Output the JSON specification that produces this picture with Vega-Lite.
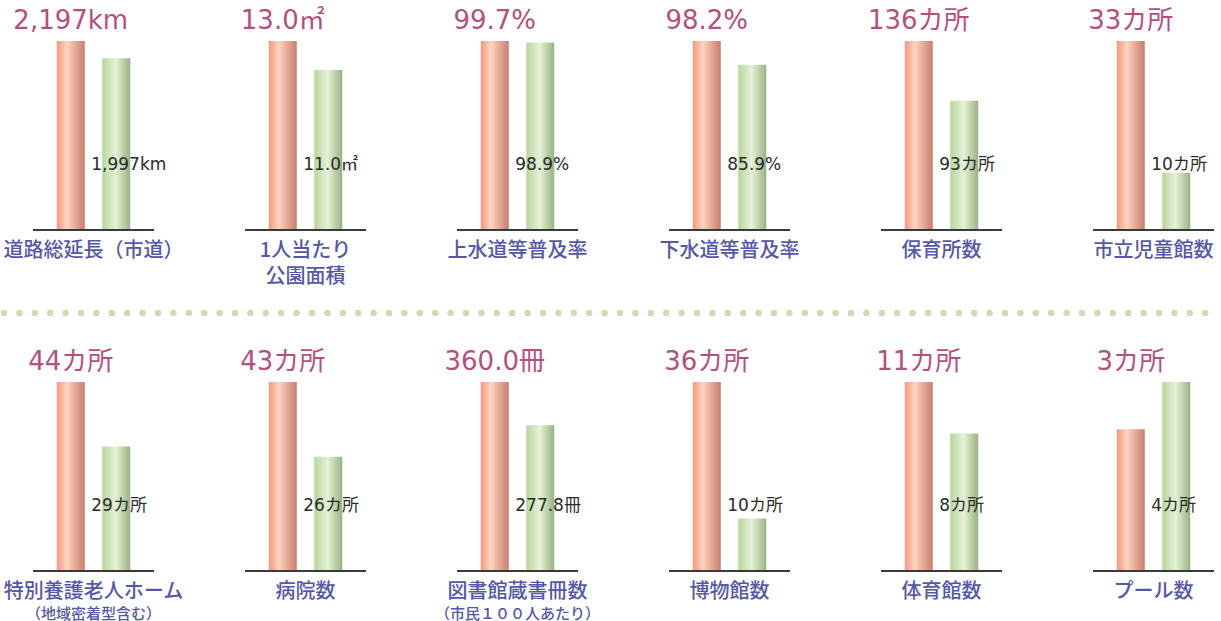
{
  "$schema": "https://vega.github.io/schema/vega-lite/v6.json",
  "background": "white",
  "padding": {"left": 0, "top": 8, "right": 0, "bottom": 0},
  "config": {"view": {"stroke": null}, "font": "Noto Sans CJK JP"},
  "data": {"values": [
    {"panel": 1, "row": 1, "series": "s1", "value": 2197, "label": "2,197km", "name": "道路総延長（市道）", "name2": null, "sub": null},
    {"panel": 1, "row": 1, "series": "s2", "value": 1997, "label": "1,997km", "name": "道路総延長（市道）", "name2": null, "sub": null},
    {"panel": 2, "row": 1, "series": "s1", "value": 13.0, "label": "13.0㎡", "name": "1人当たり", "name2": "公園面積", "sub": null},
    {"panel": 2, "row": 1, "series": "s2", "value": 11.0, "label": "11.0㎡", "name": "1人当たり", "name2": "公園面積", "sub": null},
    {"panel": 3, "row": 1, "series": "s1", "value": 99.7, "label": "99.7%", "name": "上水道等普及率", "name2": null, "sub": null},
    {"panel": 3, "row": 1, "series": "s2", "value": 98.9, "label": "98.9%", "name": "上水道等普及率", "name2": null, "sub": null},
    {"panel": 4, "row": 1, "series": "s1", "value": 98.2, "label": "98.2%", "name": "下水道等普及率", "name2": null, "sub": null},
    {"panel": 4, "row": 1, "series": "s2", "value": 85.9, "label": "85.9%", "name": "下水道等普及率", "name2": null, "sub": null},
    {"panel": 5, "row": 1, "series": "s1", "value": 136, "label": "136カ所", "name": "保育所数", "name2": null, "sub": null},
    {"panel": 5, "row": 1, "series": "s2", "value": 93, "label": "93カ所", "name": "保育所数", "name2": null, "sub": null},
    {"panel": 6, "row": 1, "series": "s1", "value": 33, "label": "33カ所", "name": "市立児童館数", "name2": null, "sub": null},
    {"panel": 6, "row": 1, "series": "s2", "value": 10, "label": "10カ所", "name": "市立児童館数", "name2": null, "sub": null},
    {"panel": 7, "row": 2, "series": "s1", "value": 44, "label": "44カ所", "name": "特別養護老人ホーム", "name2": null, "sub": "（地域密着型含む）"},
    {"panel": 7, "row": 2, "series": "s2", "value": 29, "label": "29カ所", "name": "特別養護老人ホーム", "name2": null, "sub": "（地域密着型含む）"},
    {"panel": 8, "row": 2, "series": "s1", "value": 43, "label": "43カ所", "name": "病院数", "name2": null, "sub": null},
    {"panel": 8, "row": 2, "series": "s2", "value": 26, "label": "26カ所", "name": "病院数", "name2": null, "sub": null},
    {"panel": 9, "row": 2, "series": "s1", "value": 360.0, "label": "360.0冊", "name": "図書館蔵書冊数", "name2": null, "sub": "（市民１００人あたり）"},
    {"panel": 9, "row": 2, "series": "s2", "value": 277.8, "label": "277.8冊", "name": "図書館蔵書冊数", "name2": null, "sub": "（市民１００人あたり）"},
    {"panel": 10, "row": 2, "series": "s1", "value": 36, "label": "36カ所", "name": "博物館数", "name2": null, "sub": null},
    {"panel": 10, "row": 2, "series": "s2", "value": 10, "label": "10カ所", "name": "博物館数", "name2": null, "sub": null},
    {"panel": 11, "row": 2, "series": "s1", "value": 11, "label": "11カ所", "name": "体育館数", "name2": null, "sub": null},
    {"panel": 11, "row": 2, "series": "s2", "value": 8, "label": "8カ所", "name": "体育館数", "name2": null, "sub": null},
    {"panel": 12, "row": 2, "series": "s1", "value": 3, "label": "3カ所", "name": "プール数", "name2": null, "sub": null},
    {"panel": 12, "row": 2, "series": "s2", "value": 4, "label": "4カ所", "name": "プール数", "name2": null, "sub": null}
  ]},
  "spacing": 0,
  "vconcat": [
    {
      "transform": [
        {"filter": "datum.row === 1"},
        {"joinaggregate": [{"op": "max", "field": "value", "as": "top"}], "groupby": ["panel"]}
      ],
      "facet": {"column": {"field": "panel", "type": "ordinal", "header": null}},
      "spacing": {"column": 91, "row": 0},
      "bounds": "flush",
      "resolve": {"scale": {"y": "independent"}},
      "spec": {
        "width": 121,
        "height": 189,
        "layer": [
          {
            "transform": [{"filter": "datum.series === 's1'"}],
            "mark": {"type": "bar", "color": {"gradient": "linear", "x1": 0, "y1": 0, "x2": 1, "y2": 0, "stops": [{"offset": 0, "color": "#f4977a"}, {"offset": 0.36, "color": "#fdd5c5"}, {"offset": 0.55, "color": "#eebaa6"}, {"offset": 1, "color": "#c97e6d"}]}},
            "encoding": {
              "x": {"field": "series", "type": "nominal", "scale": {"domain": ["s1", "s2"], "paddingInner": 0.3846, "paddingOuter": 0.522}, "axis": null},
              "y": {"field": "value", "type": "quantitative", "scale": {"nice": false, "zero": true}, "axis": null}
            }
          },
          {
            "transform": [{"filter": "datum.series === 's2'"}],
            "mark": {"type": "bar", "color": {"gradient": "linear", "x1": 0, "y1": 0, "x2": 1, "y2": 0, "stops": [{"offset": 0, "color": "#b6d79b"}, {"offset": 0.48, "color": "#e6f1d9"}, {"offset": 0.62, "color": "#cfe2bd"}, {"offset": 1, "color": "#97b285"}]}},
            "encoding": {
              "x": {"field": "series", "type": "nominal", "scale": {"domain": ["s1", "s2"], "paddingInner": 0.3846, "paddingOuter": 0.522}, "axis": null},
              "y": {"field": "value", "type": "quantitative", "axis": null}
            }
          },
          {
            "transform": [{"filter": "datum.series === 's1'"}],
            "mark": {"type": "rule", "color": "#3a3a3a", "strokeWidth": 2},
            "encoding": {"y": {"datum": 0, "type": "quantitative", "axis": null}}
          },
          {
            "transform": [{"filter": "datum.series === 's1'"}],
            "mark": {"type": "text", "align": "center", "baseline": "alphabetic", "dy": -12, "fontSize": 26, "font": "DejaVu Sans, Noto Sans CJK JP", "color": "#b4507e"},
            "encoding": {
              "x": {"field": "series", "type": "nominal", "axis": null},
              "y": {"field": "top", "type": "quantitative", "axis": null},
              "text": {"field": "label"}
            }
          },
          {
            "transform": [{"filter": "datum.series === 's2'"}],
            "mark": {"type": "text", "align": "left", "baseline": "alphabetic", "dx": -11, "dy": -60, "fontSize": 17, "font": "DejaVu Sans, Noto Sans CJK JP", "color": "#2b2b2b"},
            "encoding": {
              "x": {"field": "series", "type": "nominal", "bandPosition": 0, "axis": null},
              "y": {"datum": 0, "type": "quantitative", "axis": null},
              "text": {"field": "label"}
            }
          },
          {
            "transform": [{"filter": "datum.series === 's1'"}],
            "mark": {"type": "text", "align": "center", "baseline": "alphabetic", "dy": 27, "fontSize": 20, "fontWeight": 500, "font": "Noto Sans CJK JP", "color": "#5558a6"},
            "encoding": {
              "y": {"datum": 0, "type": "quantitative", "axis": null},
              "text": {"field": "name"}
            }
          },
          {
            "transform": [{"filter": "datum.series === 's1' && datum.name2 != null"}],
            "mark": {"type": "text", "align": "center", "baseline": "alphabetic", "dy": 52.5, "fontSize": 20, "fontWeight": 500, "font": "Noto Sans CJK JP", "color": "#5558a6"},
            "encoding": {
              "y": {"datum": 0, "type": "quantitative", "axis": null},
              "text": {"field": "name2"}
            }
          }
        ]
      }
    },
    {
      "data": {"values": [{"line": "separator"}]},
      "width": 1181,
      "height": 62,
      "mark": {"type": "rule", "color": "#d5d8b3", "strokeWidth": 6.5, "strokeCap": "round", "strokeDash": [0, 15.4]},
      "encoding": {
        "x": {"datum": -0.024556, "type": "quantitative", "scale": {"domain": [0, 1], "nice": false, "zero": false}, "axis": null},
        "x2": {"datum": 0.993226},
        "y": {"datum": 0.58, "type": "quantitative", "scale": {"domain": [0, 1], "nice": false}, "axis": null}
      }
    },
    {
      "transform": [
        {"filter": "datum.row === 2"},
        {"joinaggregate": [{"op": "max", "field": "value", "as": "top"}], "groupby": ["panel"]}
      ],
      "facet": {"column": {"field": "panel", "type": "ordinal", "header": null}},
      "spacing": {"column": 91, "row": 0},
      "bounds": "flush",
      "resolve": {"scale": {"y": "independent"}},
      "spec": {
        "width": 121,
        "height": 189,
        "layer": [
          {
            "transform": [{"filter": "datum.series === 's1'"}],
            "mark": {"type": "bar", "color": {"gradient": "linear", "x1": 0, "y1": 0, "x2": 1, "y2": 0, "stops": [{"offset": 0, "color": "#f4977a"}, {"offset": 0.36, "color": "#fdd5c5"}, {"offset": 0.55, "color": "#eebaa6"}, {"offset": 1, "color": "#c97e6d"}]}},
            "encoding": {
              "x": {"field": "series", "type": "nominal", "scale": {"domain": ["s1", "s2"], "paddingInner": 0.3846, "paddingOuter": 0.522}, "axis": null},
              "y": {"field": "value", "type": "quantitative", "scale": {"nice": false, "zero": true}, "axis": null}
            }
          },
          {
            "transform": [{"filter": "datum.series === 's2'"}],
            "mark": {"type": "bar", "color": {"gradient": "linear", "x1": 0, "y1": 0, "x2": 1, "y2": 0, "stops": [{"offset": 0, "color": "#b6d79b"}, {"offset": 0.48, "color": "#e6f1d9"}, {"offset": 0.62, "color": "#cfe2bd"}, {"offset": 1, "color": "#97b285"}]}},
            "encoding": {
              "x": {"field": "series", "type": "nominal", "scale": {"domain": ["s1", "s2"], "paddingInner": 0.3846, "paddingOuter": 0.522}, "axis": null},
              "y": {"field": "value", "type": "quantitative", "axis": null}
            }
          },
          {
            "transform": [{"filter": "datum.series === 's1'"}],
            "mark": {"type": "rule", "color": "#3a3a3a", "strokeWidth": 2},
            "encoding": {"y": {"datum": 0, "type": "quantitative", "axis": null}}
          },
          {
            "transform": [{"filter": "datum.series === 's1'"}],
            "mark": {"type": "text", "align": "center", "baseline": "alphabetic", "dy": -12, "fontSize": 26, "font": "DejaVu Sans, Noto Sans CJK JP", "color": "#b4507e"},
            "encoding": {
              "x": {"field": "series", "type": "nominal", "axis": null},
              "y": {"field": "top", "type": "quantitative", "axis": null},
              "text": {"field": "label"}
            }
          },
          {
            "transform": [{"filter": "datum.series === 's2'"}],
            "mark": {"type": "text", "align": "left", "baseline": "alphabetic", "dx": -11, "dy": -60, "fontSize": 17, "font": "DejaVu Sans, Noto Sans CJK JP", "color": "#2b2b2b"},
            "encoding": {
              "x": {"field": "series", "type": "nominal", "bandPosition": 0, "axis": null},
              "y": {"datum": 0, "type": "quantitative", "axis": null},
              "text": {"field": "label"}
            }
          },
          {
            "transform": [{"filter": "datum.series === 's1'"}],
            "mark": {"type": "text", "align": "center", "baseline": "alphabetic", "dy": 27, "fontSize": 20, "fontWeight": 500, "font": "Noto Sans CJK JP", "color": "#5558a6"},
            "encoding": {
              "y": {"datum": 0, "type": "quantitative", "axis": null},
              "text": {"field": "name"}
            }
          },
          {
            "transform": [{"filter": "datum.series === 's1' && datum.sub != null"}],
            "mark": {"type": "text", "align": "center", "baseline": "alphabetic", "dy": 48, "fontSize": 15, "fontWeight": 500, "font": "Noto Sans CJK JP", "color": "#5558a6"},
            "encoding": {
              "y": {"datum": 0, "type": "quantitative", "axis": null},
              "text": {"field": "sub"}
            }
          }
        ]
      }
    }
  ]
}
